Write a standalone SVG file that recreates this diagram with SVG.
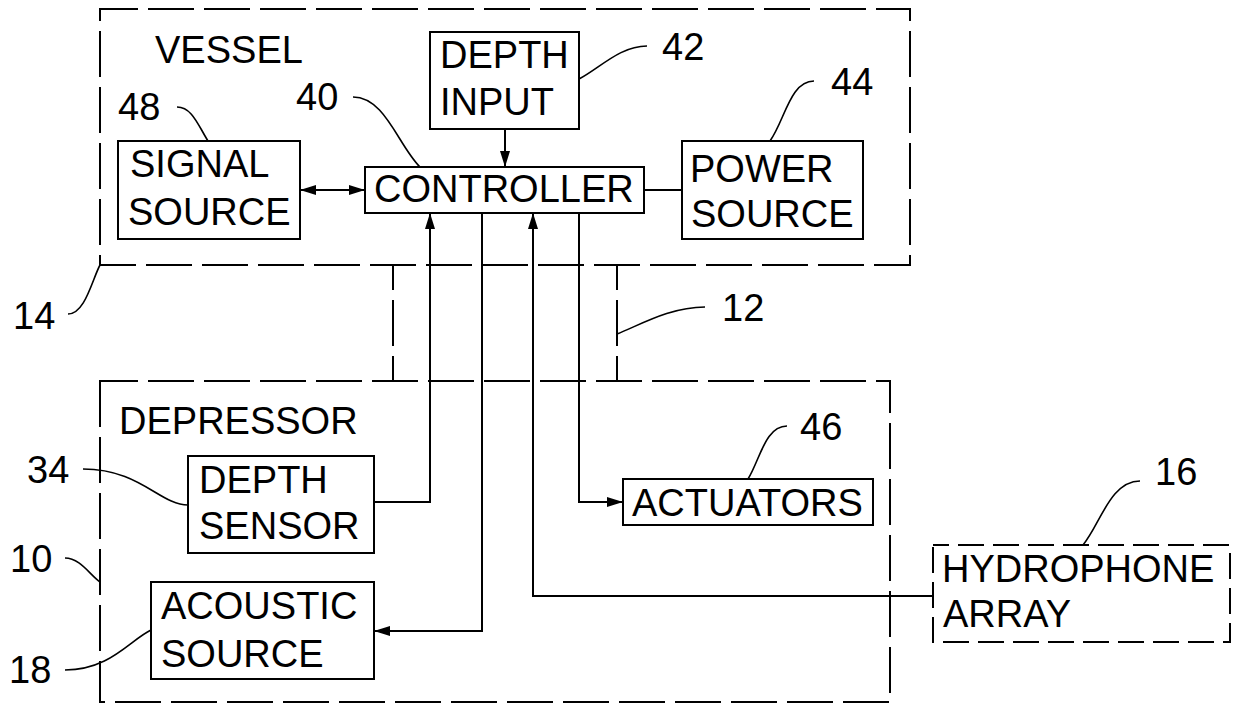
<svg xmlns="http://www.w3.org/2000/svg" width="1236" height="705" viewBox="0 0 1236 705">
<style>
text{font-family:"Liberation Sans",Arial,sans-serif;font-size:38px;fill:#000}
.box{fill:none;stroke:#000;stroke-width:2}
.dash{fill:none;stroke:#000;stroke-width:2;stroke-dasharray:46 10;stroke-dashoffset:8}
.hdash{fill:none;stroke:#000;stroke-width:2;stroke-dasharray:26 9;stroke-dashoffset:10}
.cab{fill:none;stroke:#000;stroke-width:2;stroke-dasharray:46 10;stroke-dashoffset:21}
.ln{fill:none;stroke:#000;stroke-width:2}
.ld{fill:none;stroke:#000;stroke-width:1.6}
</style>
<defs>
<marker id="ah" viewBox="0 0 16 10" refX="16" refY="5" markerWidth="16" markerHeight="10" markerUnits="userSpaceOnUse" orient="auto-start-reverse">
<path d="M0,0 L16,5 L0,10 z" fill="#000"/>
</marker>
</defs>
<rect width="1236" height="705" fill="#fff"/>
<g id="vessel">
<rect class="dash" x="100" y="9" width="810" height="256"/>
<text x="155" y="63">VESSEL</text>
</g>
<g id="cable">
<line class="cab" x1="393" y1="265" x2="393" y2="381"/>
<line class="cab" x1="617" y1="265" x2="617" y2="381"/>
</g>
<g id="depressor">
<rect class="dash" x="100" y="381" width="790" height="321"/>
<text x="119" y="434">DEPRESSOR</text>
</g>
<g id="depth-input">
<rect class="box" x="430" y="32" width="149" height="97"/>
<text x="440" y="68">DEPTH</text>
<text x="440" y="115">INPUT</text>
</g>
<g id="signal-source">
<rect class="box" x="118" y="141" width="182" height="98"/>
<text x="130" y="177">SIGNAL</text>
<text x="128" y="225">SOURCE</text>
</g>
<g id="controller">
<rect class="box" x="365" y="167" width="279" height="46"/>
<text x="374" y="202">CONTROLLER</text>
</g>
<g id="power-source">
<rect class="box" x="682" y="141" width="181" height="98"/>
<text x="690" y="182">POWER</text>
<text x="691" y="227">SOURCE</text>
</g>
<g id="depth-sensor">
<rect class="box" x="188" y="456" width="186" height="97"/>
<text x="199" y="493">DEPTH</text>
<text x="199" y="539">SENSOR</text>
</g>
<g id="acoustic-source">
<rect class="box" x="151" y="582" width="223" height="97"/>
<text x="161" y="619">ACOUSTIC</text>
<text x="161" y="667">SOURCE</text>
</g>
<g id="actuators">
<rect class="box" x="623" y="479" width="250" height="46"/>
<text x="632" y="516">ACTUATORS</text>
</g>
<g id="hydrophone-array">
<rect class="hdash" x="933" y="545" width="297" height="97"/>
<text x="942" y="582">HYDROPHONE</text>
<text x="943" y="627">ARRAY</text>
</g>
<g id="connectors">
<line class="ln" x1="300" y1="190" x2="365" y2="190" marker-start="url(#ah)" marker-end="url(#ah)"/>
<line class="ln" x1="505" y1="129" x2="505" y2="167" marker-end="url(#ah)"/>
<line class="ln" x1="644" y1="190" x2="682" y2="190"/>
<path class="ln" d="M374,502 H430 V213" marker-end="url(#ah)"/>
<path class="ln" d="M482,213 V631 H374" marker-end="url(#ah)"/>
<path class="ln" d="M933,596 H533 V213" marker-end="url(#ah)"/>
<path class="ln" d="M579,213 V502 H623" marker-end="url(#ah)"/>
</g>
<g id="labels">
<text x="118" y="120">48</text>
<path class="ld" d="M177,107 C192,107 198,125 208,141"/>
<text x="296" y="110">40</text>
<path class="ld" d="M353,97 C385,97 398,145 420,167"/>
<text x="662" y="60">42</text>
<path class="ld" d="M647,46 C620,46 600,68 579,79"/>
<text x="831" y="95">44</text>
<path class="ld" d="M814,81 C790,81 785,120 770,141"/>
<text x="13" y="329">14</text>
<path class="ld" d="M68,314 C85,314 92,280 100,265"/>
<text x="722" y="321">12</text>
<path class="ld" d="M705,307 C670,307 640,325 617,334"/>
<text x="800" y="440">46</text>
<path class="ld" d="M787,426 C765,426 760,460 748,479"/>
<text x="27" y="483">34</text>
<path class="ld" d="M83,469 C140,469 160,505 188,505"/>
<text x="10" y="572">10</text>
<path class="ld" d="M65,558 C80,558 90,575 100,582"/>
<text x="9" y="683">18</text>
<path class="ld" d="M65,670 C110,670 130,640 151,630"/>
<text x="1155" y="485">16</text>
<path class="ld" d="M1140,481 C1110,481 1100,525 1083,545"/>
</g>
</svg>
